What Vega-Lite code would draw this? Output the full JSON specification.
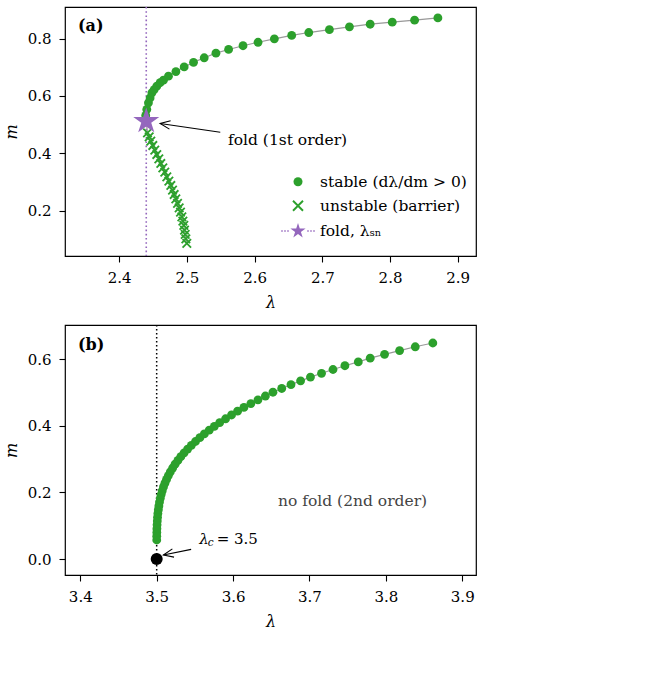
{
  "$schema": "https://vega.github.io/schema/vega-lite/v6.json",
  "padding": {"left": 2, "top": 5, "right": 5, "bottom": 5},
  "spacing": 12,
  "config": {
    "font": "DejaVu Serif",
    "view": {"stroke": "black", "strokeWidth": 1.2},
    "legend": {"symbolOpacity": 1, "symbolFillColor": "#2ca02c"},
    "axis": {
      "domain": false, "grid": false, "ticks": true, "tickColor": "black", "tickSize": 6, "tickWidth": 1.1,
      "labelColor": "black", "labelFontSize": 15, "labelFont": "DejaVu Serif", "labelPadding": 8,
      "titleFont": "DejaVu Serif", "titleFontSize": 16, "titleFontStyle": "italic", "titleFontWeight": "normal", "titleColor": "black"
    },
    "axisX": {"titlePadding": 9},
    "axisY": {"titlePadding": 8}
  },
  "datasets": {
    "a": [
      {"lam": 2.4999, "m": 0.0857, "s": "unstable"},
      {"lam": 2.4985, "m": 0.1020, "s": "unstable"},
      {"lam": 2.4975, "m": 0.1171, "s": "unstable"},
      {"lam": 2.4965, "m": 0.1322, "s": "unstable"},
      {"lam": 2.4955, "m": 0.1484, "s": "unstable"},
      {"lam": 2.4941, "m": 0.1635, "s": "unstable"},
      {"lam": 2.4926, "m": 0.1786, "s": "unstable"},
      {"lam": 2.4906, "m": 0.1949, "s": "unstable"},
      {"lam": 2.4886, "m": 0.2100, "s": "unstable"},
      {"lam": 2.4862, "m": 0.2251, "s": "unstable"},
      {"lam": 2.4837, "m": 0.2414, "s": "unstable"},
      {"lam": 2.4812, "m": 0.2564, "s": "unstable"},
      {"lam": 2.4788, "m": 0.2715, "s": "unstable"},
      {"lam": 2.4763, "m": 0.2878, "s": "unstable"},
      {"lam": 2.4734, "m": 0.3029, "s": "unstable"},
      {"lam": 2.4704, "m": 0.3180, "s": "unstable"},
      {"lam": 2.4674, "m": 0.3343, "s": "unstable"},
      {"lam": 2.4645, "m": 0.3494, "s": "unstable"},
      {"lam": 2.4615, "m": 0.3645, "s": "unstable"},
      {"lam": 2.4586, "m": 0.3807, "s": "unstable"},
      {"lam": 2.4556, "m": 0.3958, "s": "unstable"},
      {"lam": 2.4526, "m": 0.4109, "s": "unstable"},
      {"lam": 2.4497, "m": 0.4272, "s": "unstable"},
      {"lam": 2.4467, "m": 0.4423, "s": "unstable"},
      {"lam": 2.4443, "m": 0.4574, "s": "unstable"},
      {"lam": 2.4418, "m": 0.4713, "s": "unstable"},
      {"lam": 2.4400, "m": 0.5120, "s": "fold"},
      {"lam": 2.4392, "m": 0.5320, "s": "stable"},
      {"lam": 2.4408, "m": 0.5530, "s": "stable"},
      {"lam": 2.4432, "m": 0.5760, "s": "stable"},
      {"lam": 2.4457, "m": 0.5930, "s": "stable"},
      {"lam": 2.4483, "m": 0.6110, "s": "stable"},
      {"lam": 2.4517, "m": 0.6220, "s": "stable"},
      {"lam": 2.4556, "m": 0.6340, "s": "stable"},
      {"lam": 2.4605, "m": 0.6460, "s": "stable"},
      {"lam": 2.4654, "m": 0.6550, "s": "stable"},
      {"lam": 2.4728, "m": 0.6690, "s": "stable"},
      {"lam": 2.4838, "m": 0.6850, "s": "stable"},
      {"lam": 2.4960, "m": 0.7010, "s": "stable"},
      {"lam": 2.5098, "m": 0.7170, "s": "stable"},
      {"lam": 2.5256, "m": 0.7330, "s": "stable"},
      {"lam": 2.5429, "m": 0.7490, "s": "stable"},
      {"lam": 2.5616, "m": 0.7620, "s": "stable"},
      {"lam": 2.5829, "m": 0.7750, "s": "stable"},
      {"lam": 2.6051, "m": 0.7870, "s": "stable"},
      {"lam": 2.6292, "m": 0.7990, "s": "stable"},
      {"lam": 2.6548, "m": 0.8110, "s": "stable"},
      {"lam": 2.6800, "m": 0.8210, "s": "stable"},
      {"lam": 2.7105, "m": 0.8310, "s": "stable"},
      {"lam": 2.7401, "m": 0.8410, "s": "stable"},
      {"lam": 2.7707, "m": 0.8500, "s": "stable"},
      {"lam": 2.8033, "m": 0.8570, "s": "stable"},
      {"lam": 2.8363, "m": 0.8640, "s": "stable"},
      {"lam": 2.8707, "m": 0.8720, "s": "stable"}
    ],
    "a_arrow": [{"lam": 2.5493, "m": 0.4736, "lam2": 2.4605, "m2": 0.5038}],
    "a_text": [{"lam": 2.5607, "m": 0.4456, "t": "fold (1st order)"}],
    "a_tag": [{"lam": 2.3392, "m": 0.845, "t": "(a)"}],
    "b": [
      {"lam": 3.5001, "m": 0.0570}, {"lam": 3.5001, "m": 0.0684}, {"lam": 3.5002, "m": 0.0797},
      {"lam": 3.5003, "m": 0.0911}, {"lam": 3.5005, "m": 0.1025}, {"lam": 3.5008, "m": 0.1138},
      {"lam": 3.5011, "m": 0.1252}, {"lam": 3.5016, "m": 0.1366}, {"lam": 3.5022, "m": 0.1479},
      {"lam": 3.5029, "m": 0.1593}, {"lam": 3.5037, "m": 0.1707}, {"lam": 3.5047, "m": 0.1820},
      {"lam": 3.5059, "m": 0.1934}, {"lam": 3.5073, "m": 0.2047}, {"lam": 3.5089, "m": 0.2161},
      {"lam": 3.5108, "m": 0.2275}, {"lam": 3.5129, "m": 0.2388}, {"lam": 3.5153, "m": 0.2502},
      {"lam": 3.5179, "m": 0.2616}, {"lam": 3.5209, "m": 0.2729}, {"lam": 3.5241, "m": 0.2843},
      {"lam": 3.5278, "m": 0.2957}, {"lam": 3.5316, "m": 0.3070}, {"lam": 3.5359, "m": 0.3184},
      {"lam": 3.5405, "m": 0.3298}, {"lam": 3.5454, "m": 0.3411}, {"lam": 3.5508, "m": 0.3525},
      {"lam": 3.5565, "m": 0.3639}, {"lam": 3.5624, "m": 0.3752}, {"lam": 3.5688, "m": 0.3866},
      {"lam": 3.5755, "m": 0.3980}, {"lam": 3.5825, "m": 0.4093}, {"lam": 3.5902, "m": 0.4207},
      {"lam": 3.5980, "m": 0.4321}, {"lam": 3.6059, "m": 0.4434}, {"lam": 3.6142, "m": 0.4548},
      {"lam": 3.6233, "m": 0.4662}, {"lam": 3.6326, "m": 0.4775}, {"lam": 3.6423, "m": 0.4889},
      {"lam": 3.6522, "m": 0.5003}, {"lam": 3.6637, "m": 0.5116}, {"lam": 3.6758, "m": 0.5230},
      {"lam": 3.6884, "m": 0.5344}, {"lam": 3.7013, "m": 0.5457}, {"lam": 3.7158, "m": 0.5571},
      {"lam": 3.7308, "m": 0.5685}, {"lam": 3.7464, "m": 0.5798}, {"lam": 3.7639, "m": 0.5912},
      {"lam": 3.7795, "m": 0.6026}, {"lam": 3.7983, "m": 0.6139}, {"lam": 3.8180, "m": 0.6253},
      {"lam": 3.8385, "m": 0.6367}, {"lam": 3.8615, "m": 0.6480}
    ],
    "b_crit": [{"lam": 3.5, "m": 0.0}],
    "b_arrow": [{"lam": 3.5451, "m": 0.0288, "lam2": 3.5088, "m2": 0.0120}],
    "b_lc": [{"lam": 3.5556, "m": 0.0588}],
    "b_text": [{"lam": 3.6588, "m": 0.174, "t": "no fold (2nd order)"}],
    "b_tag": [{"lam": 3.397, "m": 0.642, "t": "(b)"}]
  },
  "vconcat": [
    {
      "width": 411,
      "height": 249,
      "layer": [
        {
          "data": {"name": "a"},
          "transform": [{"filter": "datum.s === 'fold'"}],
          "mark": {"type": "rule", "color": "#9467bd", "strokeWidth": 1.6, "strokeDash": [1.6, 2.6], "opacity": 1},
          "encoding": {
            "x": {"field": "lam", "type": "quantitative", "title": "λ", "scale": {"domain": [2.32, 2.927], "nice": false, "zero": false},
                  "axis": {"values": [2.4, 2.5, 2.6, 2.7, 2.8, 2.9], "format": ".1f"}}
          }
        },
        {
          "data": {"name": "a"},
          "mark": {"type": "line", "color": "#999999", "strokeWidth": 1.2},
          "encoding": {
            "x": {"field": "lam", "type": "quantitative", "title": "λ", "scale": {"domain": [2.32, 2.927], "nice": false, "zero": false}},
            "y": {"field": "m", "type": "quantitative", "title": "m", "scale": {"domain": [0.042, 0.91], "nice": false, "zero": false},
                  "axis": {"values": [0.2, 0.4, 0.6, 0.8], "format": ".1f"}},
            "order": {"field": "m", "type": "quantitative"}
          }
        },
        {
          "data": {"name": "a"},
          "transform": [{"filter": "datum.s === 'stable'"}],
          "mark": {"type": "point", "shape": "circle", "filled": true, "opacity": 1, "size": 78, "color": "#2ca02c"},
          "encoding": {
            "x": {"field": "lam", "type": "quantitative", "title": "λ", "scale": {"domain": [2.32, 2.927], "nice": false, "zero": false}},
            "y": {"field": "m", "type": "quantitative", "title": "m", "scale": {"domain": [0.042, 0.91], "nice": false, "zero": false}}
          }
        },
        {
          "data": {"name": "a"},
          "transform": [{"filter": "datum.s === 'unstable'"}],
          "mark": {"type": "point", "shape": "M-1,-1L1,1M-1,1L1,-1", "filled": false, "strokeWidth": 1.8, "opacity": 1, "size": 72, "color": "#2ca02c"},
          "encoding": {
            "x": {"field": "lam", "type": "quantitative", "title": "λ", "scale": {"domain": [2.32, 2.927], "nice": false, "zero": false}},
            "y": {"field": "m", "type": "quantitative", "title": "m", "scale": {"domain": [0.042, 0.91], "nice": false, "zero": false}}
          }
        },
        {
          "data": {"name": "a"},
          "transform": [{"filter": "datum.s === 'fold'"}],
          "mark": {"type": "point", "shape": "M0,-1L0.2245,-0.309L0.9511,-0.309L0.3633,0.118L0.5878,0.809L0,0.382L-0.5878,0.809L-0.3633,0.118L-0.9511,-0.309L-0.2245,-0.309Z", "filled": true, "opacity": 1, "size": 750, "color": "#9467bd"},
          "encoding": {
            "x": {"field": "lam", "type": "quantitative", "title": "λ", "scale": {"domain": [2.32, 2.927], "nice": false, "zero": false}},
            "y": {"field": "m", "type": "quantitative", "title": "m", "scale": {"domain": [0.042, 0.91], "nice": false, "zero": false}}
          }
        },
        {
          "data": {"name": "a"},
          "mark": {"type": "point", "filled": true, "opacity": 0},
          "encoding": {
            "x": {"field": "lam", "type": "quantitative", "title": "λ", "scale": {"domain": [2.32, 2.927], "nice": false, "zero": false}},
            "y": {"field": "m", "type": "quantitative", "title": "m", "scale": {"domain": [0.042, 0.91], "nice": false, "zero": false}},
            "fill": {
              "field": "s", "type": "nominal",
              "scale": {"domain": ["stable", "unstable", "fold"], "range": ["#2ca02c", "#2ca02c", "#9467bd"]},
              "legend": {
                "orient": "none", "legendX": 224, "legendY": 167, "title": null, "padding": 0,
                "labelFont": "DejaVu Serif", "labelFontSize": 15.5, "labelColor": "black", "labelLimit": 400,
                "labelOffset": 13, "rowPadding": 7, "symbolOpacity": 1,
                "labelExpr": "datum.value === 'stable' ? 'stable (dλ/dm > 0)' : (datum.value === 'unstable' ? 'unstable (barrier)' : 'fold, λₛₙ')"
              }
            },
            "shape": {
              "field": "s", "type": "nominal",
              "scale": {"domain": ["stable", "unstable", "fold"], "range": ["circle", "M-0.866,-1.134L1.134,0.866L0.866,1.134L-1.134,-0.866Z M-1.134,0.866L0.866,-1.134L1.134,-0.866L-0.866,1.134Z", "M0,-1L0.2245,-0.309L0.9511,-0.309L0.3633,0.118L0.5878,0.809L0,0.382L-0.5878,0.809L-0.3633,0.118L-0.9511,-0.309L-0.2245,-0.309Z M1.16,-0.09L1.34,-0.09L1.34,0.09L1.16,0.09Z M1.535,-0.09L1.715,-0.09L1.715,0.09L1.535,0.09Z M1.91,-0.09L2.09,-0.09L2.09,0.09L1.91,0.09Z M-1.34,-0.09L-1.16,-0.09L-1.16,0.09L-1.34,0.09Z M-1.715,-0.09L-1.535,-0.09L-1.535,0.09L-1.715,0.09Z M-2.09,-0.09L-1.91,-0.09L-1.91,0.09L-2.09,0.09Z"]}
            },
            "size": {
              "field": "s", "type": "nominal",
              "scale": {"type": "ordinal", "domain": ["stable", "unstable", "fold"], "range": [81, 100, 256]}
            }
          }
        },
        {
          "data": {"name": "a_arrow"},
          "mark": {"type": "rule", "color": "black", "strokeWidth": 1.1},
          "encoding": {
            "x": {"field": "lam", "type": "quantitative", "title": "λ", "scale": {"domain": [2.32, 2.927], "nice": false, "zero": false}},
            "y": {"field": "m", "type": "quantitative", "title": "m", "scale": {"domain": [0.042, 0.91], "nice": false, "zero": false}},
            "x2": {"field": "lam2"},
            "y2": {"field": "m2"}
          }
        },
        {
          "data": {"name": "a_arrow"},
          "mark": {"type": "point", "shape": "M-1,-0.42L0,0L-1,0.42", "filled": false, "color": "black", "strokeWidth": 1.1, "opacity": 1, "size": 400, "angle": 188.3},
          "encoding": {
            "x": {"field": "lam2", "type": "quantitative", "title": "λ", "scale": {"domain": [2.32, 2.927], "nice": false, "zero": false}},
            "y": {"field": "m2", "type": "quantitative", "title": "m", "scale": {"domain": [0.042, 0.91], "nice": false, "zero": false}}
          }
        },
        {
          "data": {"name": "a_text"},
          "mark": {"type": "text", "align": "left", "baseline": "middle", "fontSize": 15.5, "color": "black"},
          "encoding": {
            "x": {"field": "lam", "type": "quantitative", "title": "λ", "scale": {"domain": [2.32, 2.927], "nice": false, "zero": false}},
            "y": {"field": "m", "type": "quantitative", "title": "m", "scale": {"domain": [0.042, 0.91], "nice": false, "zero": false}},
            "text": {"field": "t"}
          }
        },
        {
          "data": {"name": "a_tag"},
          "mark": {"type": "text", "align": "left", "baseline": "middle", "fontSize": 16, "fontWeight": "bold", "color": "black"},
          "encoding": {
            "x": {"field": "lam", "type": "quantitative", "title": "λ", "scale": {"domain": [2.32, 2.927], "nice": false, "zero": false}},
            "y": {"field": "m", "type": "quantitative", "title": "m", "scale": {"domain": [0.042, 0.91], "nice": false, "zero": false}},
            "text": {"field": "t"}
          }
        }
      ]
    },
    {
      "width": 411,
      "height": 250,
      "layer": [
        {
          "data": {"name": "b_crit"},
          "mark": {"type": "rule", "color": "black", "strokeWidth": 1.5, "strokeDash": [1.5, 2.5]},
          "encoding": {
            "x": {"field": "lam", "type": "quantitative", "title": "λ", "scale": {"domain": [3.38, 3.918], "nice": false, "zero": false},
                  "axis": {"values": [3.4, 3.5, 3.6, 3.7, 3.8, 3.9], "format": ".1f"}}
          }
        },
        {
          "data": {"name": "b"},
          "mark": {"type": "line", "color": "#999999", "strokeWidth": 1.2},
          "encoding": {
            "x": {"field": "lam", "type": "quantitative", "title": "λ", "scale": {"domain": [3.38, 3.918], "nice": false, "zero": false}},
            "y": {"field": "m", "type": "quantitative", "title": "m", "scale": {"domain": [-0.048, 0.702], "nice": false, "zero": false},
                  "axis": {"values": [0.0, 0.2, 0.4, 0.6], "format": ".1f"}},
            "order": {"field": "m", "type": "quantitative"}
          }
        },
        {
          "data": {"name": "b"},
          "mark": {"type": "point", "shape": "circle", "filled": true, "opacity": 1, "size": 78, "color": "#2ca02c"},
          "encoding": {
            "x": {"field": "lam", "type": "quantitative", "title": "λ", "scale": {"domain": [3.38, 3.918], "nice": false, "zero": false}},
            "y": {"field": "m", "type": "quantitative", "title": "m", "scale": {"domain": [-0.048, 0.702], "nice": false, "zero": false}}
          }
        },
        {
          "data": {"name": "b_crit"},
          "mark": {"type": "point", "shape": "circle", "filled": true, "opacity": 1, "size": 144, "color": "black"},
          "encoding": {
            "x": {"field": "lam", "type": "quantitative", "title": "λ", "scale": {"domain": [3.38, 3.918], "nice": false, "zero": false}},
            "y": {"field": "m", "type": "quantitative", "title": "m", "scale": {"domain": [-0.048, 0.702], "nice": false, "zero": false}}
          }
        },
        {
          "data": {"name": "b_arrow"},
          "mark": {"type": "rule", "color": "black", "strokeWidth": 1.1},
          "encoding": {
            "x": {"field": "lam", "type": "quantitative", "title": "λ", "scale": {"domain": [3.38, 3.918], "nice": false, "zero": false}},
            "y": {"field": "m", "type": "quantitative", "title": "m", "scale": {"domain": [-0.048, 0.702], "nice": false, "zero": false}},
            "x2": {"field": "lam2"},
            "y2": {"field": "m2"}
          }
        },
        {
          "data": {"name": "b_arrow"},
          "mark": {"type": "point", "shape": "M-1,-0.42L0,0L-1,0.42", "filled": false, "color": "black", "strokeWidth": 1.1, "opacity": 1, "size": 400, "angle": 168.6},
          "encoding": {
            "x": {"field": "lam2", "type": "quantitative", "title": "λ", "scale": {"domain": [3.38, 3.918], "nice": false, "zero": false}},
            "y": {"field": "m2", "type": "quantitative", "title": "m", "scale": {"domain": [-0.048, 0.702], "nice": false, "zero": false}}
          }
        },
        {
          "data": {"name": "b_lc"},
          "mark": {"type": "text", "align": "left", "baseline": "middle", "fontSize": 15, "fontStyle": "italic", "color": "black", "text": "λ"},
          "encoding": {
            "x": {"field": "lam", "type": "quantitative", "title": "λ", "scale": {"domain": [3.38, 3.918], "nice": false, "zero": false}},
            "y": {"field": "m", "type": "quantitative", "title": "m", "scale": {"domain": [-0.048, 0.702], "nice": false, "zero": false}}
          }
        },
        {
          "data": {"name": "b_lc"},
          "mark": {"type": "text", "align": "left", "baseline": "middle", "fontSize": 10.5, "fontStyle": "italic", "color": "black", "text": "c", "dx": 8.5, "dy": 4},
          "encoding": {
            "x": {"field": "lam", "type": "quantitative", "title": "λ", "scale": {"domain": [3.38, 3.918], "nice": false, "zero": false}},
            "y": {"field": "m", "type": "quantitative", "title": "m", "scale": {"domain": [-0.048, 0.702], "nice": false, "zero": false}}
          }
        },
        {
          "data": {"name": "b_lc"},
          "mark": {"type": "text", "align": "left", "baseline": "middle", "fontSize": 15, "color": "black", "text": "= 3.5", "dx": 17.5},
          "encoding": {
            "x": {"field": "lam", "type": "quantitative", "title": "λ", "scale": {"domain": [3.38, 3.918], "nice": false, "zero": false}},
            "y": {"field": "m", "type": "quantitative", "title": "m", "scale": {"domain": [-0.048, 0.702], "nice": false, "zero": false}}
          }
        },
        {
          "data": {"name": "b_text"},
          "mark": {"type": "text", "align": "left", "baseline": "middle", "fontSize": 15.5, "color": "#444444"},
          "encoding": {
            "x": {"field": "lam", "type": "quantitative", "title": "λ", "scale": {"domain": [3.38, 3.918], "nice": false, "zero": false}},
            "y": {"field": "m", "type": "quantitative", "title": "m", "scale": {"domain": [-0.048, 0.702], "nice": false, "zero": false}},
            "text": {"field": "t"}
          }
        },
        {
          "data": {"name": "b_tag"},
          "mark": {"type": "text", "align": "left", "baseline": "middle", "fontSize": 16, "fontWeight": "bold", "color": "black"},
          "encoding": {
            "x": {"field": "lam", "type": "quantitative", "title": "λ", "scale": {"domain": [3.38, 3.918], "nice": false, "zero": false}},
            "y": {"field": "m", "type": "quantitative", "title": "m", "scale": {"domain": [-0.048, 0.702], "nice": false, "zero": false}},
            "text": {"field": "t"}
          }
        }
      ]
    }
  ]
}
